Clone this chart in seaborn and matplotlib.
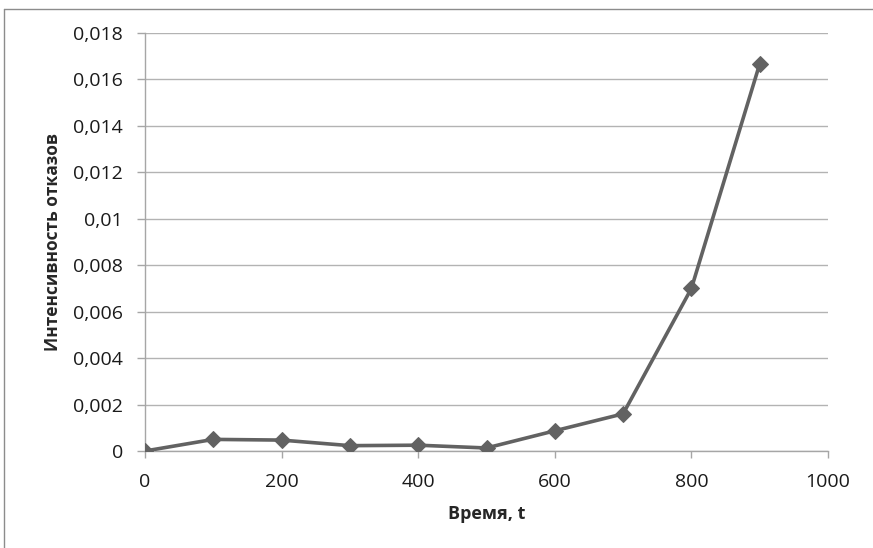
import matplotlib
matplotlib.use("Agg")
import matplotlib.pyplot as plt
import matplotlib.ticker as mticker
import seaborn as sns
import pandas as pd

# Data
time_t = [0, 100, 200, 300, 400, 500, 600, 700, 800, 900]
failure_rate = [0.0, 0.0005, 0.00047, 0.00023, 0.00025, 0.00013, 0.00087, 0.0016, 0.0070, 0.01667]
x_ticks = [0, 200, 400, 600, 800, 1000]
y_ticks = [0, 0.002, 0.004, 0.006, 0.008, 0.01, 0.012, 0.014, 0.016, 0.018]
x_label = "Время, t"
y_label = "Интенсивность отказов"

sns.set_theme(style="white")
plt.rcParams['font.family'] = ['Open Sans', 'DejaVu Sans']

df = pd.DataFrame({"t": time_t, "rate": failure_rate})

fig = plt.figure(figsize=(8.73, 5.48), dpi=100)
ax = fig.add_axes([145/873, 1-451/548, (828-145)/873, (451-33)/548])

sns.lineplot(data=df, x="t", y="rate", ax=ax, color="#626262", linewidth=2.6,
             marker="D", markersize=8.5, markeredgecolor="#626262", zorder=3)

ax.set_xlim(0, 1000)
ax.set_ylim(0, 0.018)
ax.set_xticks(x_ticks)
ax.set_yticks(y_ticks)

def yfmt(v, pos):
    s = ("%.3f" % v).rstrip("0").rstrip(".")
    return s.replace(".", ",")
ax.yaxis.set_major_formatter(mticker.FuncFormatter(yfmt))

ax.grid(axis="y", color="#b3b3b3", linewidth=1.0)
ax.grid(axis="x", visible=False)
for side in ["top", "right"]:
    ax.spines[side].set_visible(False)
for side in ["left", "bottom"]:
    ax.spines[side].set_color("#a6a6a6")
    ax.spines[side].set_linewidth(1.0)

ax.tick_params(axis="x", direction="out", length=5, color="#a6a6a6", width=1,
               labelsize=14, pad=11, bottom=True, labelcolor="#1a1a1a")
ax.tick_params(axis="y", direction="out", length=6, color="#a6a6a6", width=1,
               labelsize=14, pad=10, left=True, labelcolor="#1a1a1a")

ax.set_xlabel(x_label, fontsize=13, fontweight="bold", labelpad=10)
ax.set_ylabel(y_label, fontsize=12.5, fontweight="bold", labelpad=8)

# outer chart border (partially visible in reference)
fig.add_artist(plt.Line2D([4/873, 4/873], [0, 1-9/548], transform=fig.transFigure,
                          color="#8c8c8c", linewidth=1))
fig.add_artist(plt.Line2D([4/873, 1], [1-9/548, 1-9/548], transform=fig.transFigure,
                          color="#8c8c8c", linewidth=1))

fig.savefig("out.png", dpi=100)
